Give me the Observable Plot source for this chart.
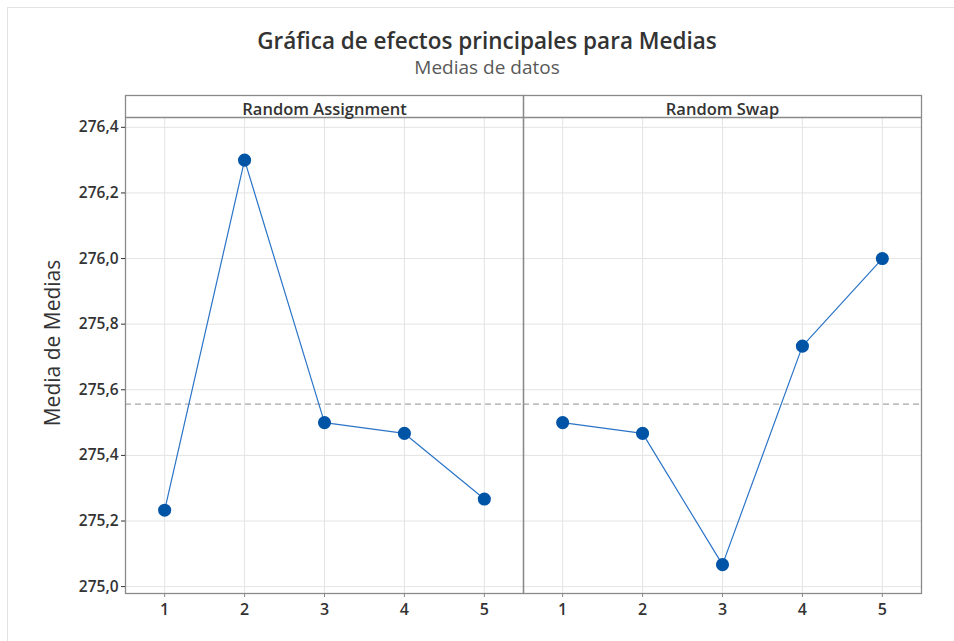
<!DOCTYPE html>
<html>
<head>
<meta charset="utf-8">
<script src="https://cdn.jsdelivr.net/npm/d3@7"></script>
<script src="https://cdn.jsdelivr.net/npm/@observablehq/plot@0.6"></script>
<style>
  html, body { margin: 0; padding: 0; background: #fff; }
  #page { position: relative; width: 954px; height: 641px; overflow: hidden; font-family: "Open Sans", "Noto Sans", sans-serif; }
  #edge { position: absolute; left: 7px; top: 7px; width: 960px; height: 650px; border-left: 1px solid #e3e3e3; border-top: 1px solid #e3e3e3; }
  #title { position: absolute; left: 0; width: 974px; top: 25px; text-align: center; font-size: 22.5px; font-weight: 600; color: #333; }
  #subtitle { position: absolute; left: 0; width: 974px; top: 54px; text-align: center; font-size: 19px; color: #595959; }
  #ylabel { position: absolute; left: 52px; top: 343px; transform: translate(-50%, -50%) rotate(-90deg); white-space: nowrap; font-size: 21px; color: #333; }
  #chart { position: absolute; left: 0; top: 85px; }
</style>
</head>
<body>
<div id="page">
  <div id="edge"></div>
  <div id="title">Gráfica de efectos principales para Medias</div>
  <div id="subtitle">Medias de datos</div>
  <div id="chart"></div>
  <div id="ylabel"></div>
</div>
<script>
const factors = ["Random Assignment", "Random Swap"];
const levels = [1, 2, 3, 4, 5];
const randomAssignment = [275.233, 276.3, 275.5, 275.467, 275.267];
const randomSwap = [275.5, 275.467, 275.067, 275.733, 276.0];
const overallMean = 275.556;
const yTicks = [275.0, 275.2, 275.4, 275.6, 275.8, 276.0, 276.2, 276.4];
const yLabel = "Media de Medias";

document.getElementById("ylabel").textContent = yLabel;

const series = [randomAssignment, randomSwap];
const rows = [];
factors.forEach((f, i) => levels.forEach((l, j) => rows.push({factor: f, level: l, value: series[i][j]})));

const yDomain = [274.979, 276.43];
const fmt = d => d3.format(".1f")(d).replace(".", ",");

const plot = Plot.plot({
  width: 954,
  height: 556,
  marginTop: 32,
  marginLeft: 124,
  marginRight: 33,
  marginBottom: 48,
  style: {fontFamily: "'Open Sans', 'Noto Sans', sans-serif", background: "transparent"},
  fx: {domain: factors, padding: 0, label: null},
  x: {domain: [0.51, 5.49], label: null},
  y: {domain: yDomain, label: null},
  marks: [
    Plot.gridX({ticks: levels, stroke: "#e4e4e4", strokeOpacity: 1}),
    Plot.gridY({ticks: yTicks, stroke: "#e4e4e4", strokeOpacity: 1}),
    Plot.ruleY([overallMean], {stroke: "#a6a6a6", strokeWidth: 1.3, strokeDasharray: "6,4"}),
    Plot.line(rows, {fx: "factor", x: "level", y: "value", stroke: "#2b74c7", strokeWidth: 1.2}),
    Plot.dot(rows, {fx: "factor", x: "level", y: "value", r: 5.8, fill: "#0054a6", stroke: "#0054a6"}),
    Plot.ruleY([yDomain[1]], {stroke: "#8a8a8a", strokeWidth: 1.3}),
    Plot.frame({stroke: "#8a8a8a", strokeWidth: 1.3, insetTop: -22}),
    Plot.axisFx({anchor: "top", tickSize: 0, tickPadding: 3, label: null, fontSize: 16.5, fontWeight: 600, fill: "#333"}),
    Plot.axisX({ticks: levels, tickSize: 4, tickPadding: 6, tickFormat: d => String(d), fontSize: 16, fontWeight: 600, color: "#333", stroke: "#8a8a8a", label: null}),
    Plot.axisY({ticks: yTicks, tickSize: 4, tickPadding: 3, tickFormat: fmt, fontSize: 15.5, fontWeight: 600, color: "#333", label: null})
  ]
});
document.getElementById("chart").appendChild(plot);
</script>
</body>
</html>
